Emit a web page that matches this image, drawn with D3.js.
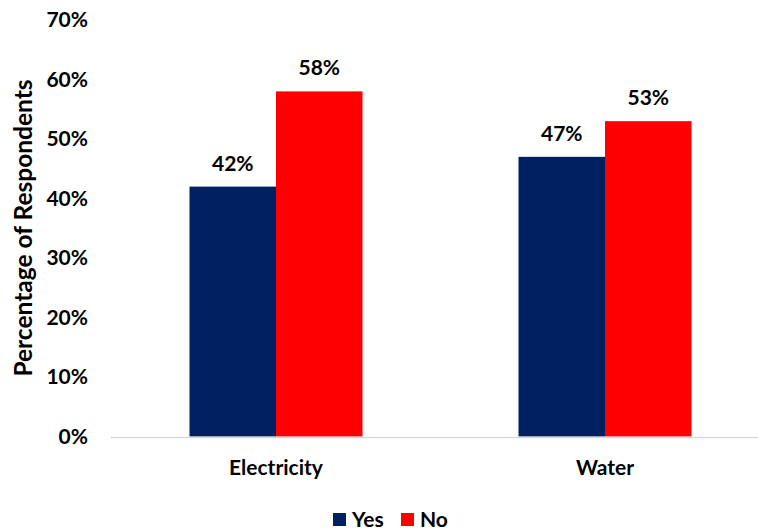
<!DOCTYPE html>
<html>
<head>
    <title>Access to Services</title>
    <script src="https://d3js.org/d3.v7.min.js"></script>
    <style>
        body { margin: 0; background: white; }
        text { font-family: Lato, "Open Sans", sans-serif; font-weight: bold; fill: #000; }
    </style>
</head>
<body>
    <div id="chart"></div>
    <script>
        // Data
        const categories = ['Electricity', 'Water'];
        const seriesNames = ['Yes', 'No'];
        const yesValues = [0.42, 0.47];
        const noValues = [0.58, 0.53];
        const yTicks = [0, 0.1, 0.2, 0.3, 0.4, 0.5, 0.6, 0.7];
        const colors = ['#002060', '#ff0000'];

        const width = 758, height = 531;

        const svg = d3.select('#chart')
            .append('svg')
            .attr('width', width)
            .attr('height', height);

        const x0 = d3.scaleBand().domain(categories).range([111.5, 769.5]);
        const x1 = d3.scaleBand().domain(seriesNames).range([0, 173]);
        const y = d3.scaleLinear().domain([0, 0.7]).range([436.5, 20]);

        // y tick labels (no axis line)
        svg.append('g')
            .selectAll('text')
            .data(yTicks)
            .enter()
            .append('text')
            .attr('x', 88)
            .attr('y', d => y(d))
            .attr('dy', '0.35em')
            .attr('text-anchor', 'end')
            .style('font-size', '21px')
            .text(d => d3.format('.0%')(d));

        // y title
        svg.append('text')
            .attr('transform', 'translate(32,228) rotate(-90)')
            .attr('text-anchor', 'middle')
            .style('font-size', '24.5px')
            .text('Percentage of Respondents');

        const rows = categories.map((c, i) => ({ cat: c, vals: [yesValues[i], noValues[i]] }));

        const groups = svg.append('g')
            .selectAll('g')
            .data(rows)
            .enter()
            .append('g')
            .attr('transform', d => `translate(${x0(d.cat) + (x0.bandwidth() - 173) / 2},0)`);

        groups.selectAll('rect')
            .data(d => d.vals.map((v, i) => ({ key: seriesNames[i], v: v, i: i })))
            .enter()
            .append('rect')
            .attr('x', d => x1(d.key))
            .attr('width', x1.bandwidth())
            .attr('y', d => y(d.v))
            .attr('height', d => y(0) - y(d.v))
            .attr('fill', d => colors[d.i]);

        groups.selectAll('text.lbl')
            .data(d => d.vals.map((v, i) => ({ key: seriesNames[i], v: v })))
            .enter()
            .append('text')
            .attr('class', 'lbl')
            .attr('x', d => x1(d.key) + x1.bandwidth() / 2)
            .attr('y', d => y(d.v) - 16)
            .attr('text-anchor', 'middle')
            .style('font-size', '21px')
            .text(d => d3.format('.0%')(d.v));

        // x axis line
        svg.append('line')
            .attr('x1', 111)
            .attr('x2', width)
            .attr('y1', y(0) + 1)
            .attr('y2', y(0) + 1)
            .attr('stroke', '#d9d9d9')
            .attr('stroke-width', 1.5);

        // category labels
        svg.append('g')
            .selectAll('text')
            .data(categories)
            .enter()
            .append('text')
            .attr('x', d => x0(d) + x0.bandwidth() / 2)
            .attr('y', 475)
            .attr('text-anchor', 'middle')
            .style('font-size', '21px')
            .text(d => d);

        // legend
        const legendX = [333, 401];
        const legend = svg.append('g')
            .selectAll('g')
            .data(seriesNames)
            .enter()
            .append('g')
            .attr('transform', (d, i) => `translate(${legendX[i]},513)`);
        legend.append('rect')
            .attr('width', 13)
            .attr('height', 13)
            .attr('fill', (d, i) => colors[i]);
        legend.append('text')
            .attr('x', 19)
            .attr('y', 14)
            .style('font-size', '21px')
            .text(d => d);
    </script>
</body>
</html>
